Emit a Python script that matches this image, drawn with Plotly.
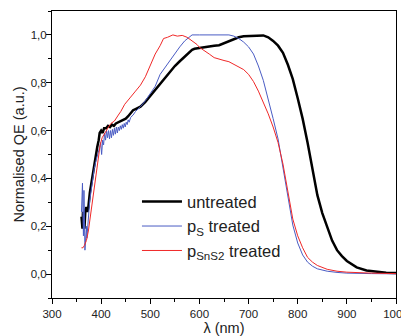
import plotly.graph_objects as go

# ---- data ----
wl_untreated = [360, 362, 363, 364, 366, 368, 370, 372, 374, 377, 380, 383, 386, 389, 392, 395, 397,
                400, 403, 406, 410, 414, 418, 422, 426, 430, 435, 440, 445, 450, 455, 460, 465, 470,
                480, 490, 500, 510, 520, 530, 540, 550, 560, 570, 580, 585, 590, 600, 610, 620, 630,
                640, 650, 660, 670, 680, 690, 700, 710, 720, 730, 740, 750, 760, 770, 780, 790, 800,
                810, 820, 830, 840, 850, 860, 870, 880, 890, 900, 910, 920, 940, 960, 980, 1000]
qe_untreated = [0.24, 0.19, 0.26, 0.22, 0.19, 0.27, 0.28, 0.26, 0.28, 0.34, 0.38, 0.43, 0.45, 0.50, 0.53, 0.56, 0.59,
                0.60, 0.59, 0.61, 0.61, 0.62, 0.615, 0.625, 0.62, 0.63, 0.635, 0.64, 0.645, 0.65, 0.66, 0.675, 0.685, 0.69,
                0.70, 0.72, 0.745, 0.77, 0.795, 0.82, 0.845, 0.87, 0.89, 0.91, 0.93, 0.938, 0.942, 0.946, 0.948, 0.952, 0.955,
                0.957, 0.965, 0.975, 0.982, 0.99, 0.994, 0.995, 0.998, 1.0, 0.998, 0.99, 0.975, 0.955, 0.925, 0.875, 0.815, 0.735,
                0.65, 0.55, 0.44, 0.33, 0.255, 0.195, 0.14, 0.10, 0.075, 0.055, 0.04, 0.028, 0.015, 0.009, 0.006, 0.005]

wl_ps = [360, 361, 362, 363, 364, 365, 366, 367, 368, 369, 370, 371, 372, 373, 375, 377, 380, 383, 386, 389,
         392, 395, 397, 399, 401, 403, 405, 407, 409, 411, 413, 415, 417, 419, 421, 423, 425, 427, 429, 431,
         433, 435, 437, 439, 441, 443, 445, 447, 449, 451, 453, 455, 457, 460, 465, 470, 480, 490, 500, 510,
         520, 530, 540, 550, 560, 570, 580, 585, 600, 620, 640, 660, 670, 680, 690, 700, 710, 720, 730, 740,
         750, 760, 770, 780, 790, 800, 810, 820, 830, 840, 860, 880, 900, 950, 1000]
qe_ps = [0.26, 0.33, 0.38, 0.25, 0.16, 0.35, 0.14, 0.10, 0.13, 0.18, 0.20, 0.15, 0.19, 0.24, 0.26, 0.31, 0.36, 0.40, 0.44, 0.47,
         0.49, 0.51, 0.53, 0.55, 0.50, 0.56, 0.54, 0.59, 0.56, 0.60, 0.57, 0.60, 0.565, 0.60, 0.57, 0.605, 0.58, 0.61, 0.585, 0.615,
         0.59, 0.615, 0.60, 0.62, 0.605, 0.625, 0.61, 0.63, 0.615, 0.635, 0.625, 0.645, 0.635, 0.655, 0.665, 0.68, 0.70, 0.725, 0.755, 0.785,
         0.835, 0.865, 0.89, 0.92, 0.95, 0.975, 0.99, 1.0, 1.0, 1.0, 1.0, 1.0, 0.995, 0.985, 0.97, 0.95, 0.92, 0.87, 0.81, 0.735,
         0.65, 0.565, 0.45, 0.32, 0.205, 0.13, 0.08, 0.05, 0.033, 0.022, 0.012, 0.007, 0.004, 0.002, 0.001]

wl_psns2 = [360, 363, 366, 370, 374, 378, 382, 386, 390, 394, 398, 402, 406, 410, 415, 420, 427, 435, 440, 448,
            455, 460, 470, 480, 490, 500, 510, 520, 527, 535, 546, 555, 565, 575, 585, 595, 600, 610, 620, 630,
            640, 650, 660, 670, 680, 690, 700, 710, 720, 730, 740, 750, 760, 770, 780, 790, 800, 810, 820, 830,
            840, 860, 880, 900, 950, 1000]
qe_psns2 = [0.11, 0.11, 0.12, 0.14, 0.18, 0.24, 0.30, 0.37, 0.43, 0.49, 0.54, 0.57, 0.585, 0.60, 0.615, 0.63, 0.64, 0.665, 0.68, 0.71,
            0.73, 0.74, 0.765, 0.79, 0.825, 0.87, 0.92, 0.955, 0.985, 0.99, 1.0, 0.995, 0.998, 0.99, 0.975, 0.96, 0.948, 0.935, 0.92, 0.905,
            0.898, 0.893, 0.888, 0.878, 0.865, 0.855, 0.835, 0.805, 0.765, 0.72, 0.67, 0.615, 0.55, 0.46, 0.34, 0.23, 0.16, 0.11, 0.07, 0.05,
            0.036, 0.02, 0.012, 0.008, 0.004, 0.002]

x_ticks = [300, 400, 500, 600, 700, 800, 900, 1000]
y_ticks = [0.0, 0.2, 0.4, 0.6, 0.8, 1.0]

FONT = "Liberation Sans, Arial, sans-serif"

fig = go.Figure()
fig.add_trace(go.Scatter(x=wl_untreated, y=qe_untreated, mode="lines", name="untreated",
                         line=dict(color="black", width=2.5)))
fig.add_trace(go.Scatter(x=wl_ps, y=qe_ps, mode="lines", name="p<sub>S</sub> treated",
                         line=dict(color="#4a5cc4", width=1)))
fig.add_trace(go.Scatter(x=wl_psns2, y=qe_psns2, mode="lines", name="p<sub>SnS2</sub> treated",
                         line=dict(color="#f02828", width=1)))

axis_common = dict(showline=True, linecolor="black", linewidth=1, mirror=True, automargin=False,
                   ticks="outside", ticklen=5, tickcolor="black", showgrid=False, zeroline=False,
                   tickfont=dict(family=FONT, size=11.5, color="#222"))

fig.update_xaxes(range=[300, 1000], tickvals=x_ticks,
                 minor=dict(ticks="outside", ticklen=3, dtick=50, tickcolor="black", showgrid=False),
                 title=dict(text="λ (nm)", font=dict(family=FONT, size=14.5, color="#222"), standoff=4),
                 **axis_common)
fig.update_yaxes(range=[-0.1, 1.1], tickvals=y_ticks, tickformat=".1f", ticklabelstandoff=-3,
                 minor=dict(ticks="outside", ticklen=3, dtick=0.1, tickcolor="black", showgrid=False),
                 title=dict(text="Normalised QE (a.u.)", font=dict(family=FONT, size=14.5, color="#222"), standoff=2),
                 **axis_common)

# The page body has an 8 px default margin; size the figure so the plot area lands where the reference has it.
fig.update_layout(
    width=401, height=328,
    margin=dict(l=44, r=13, t=3, b=38),
    plot_bgcolor="white", paper_bgcolor="white",
    separators=",.",
    font=dict(family=FONT, color="#222"),
    legend=dict(x=0.247, y=0.396, xanchor="left", yanchor="top",
                bgcolor="rgba(0,0,0,0)", font=dict(family=FONT, size=16.5, color="#222"),
                tracegroupgap=0, itemwidth=40),
)

fig.write_html("out.html")
